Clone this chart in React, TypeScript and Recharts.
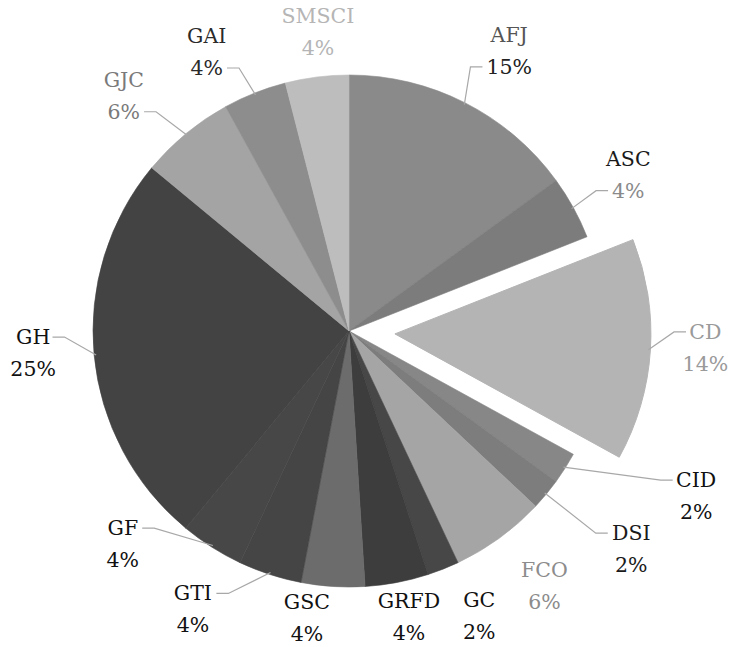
import React from 'react';
import { PieChart, Pie, Cell, Sector } from 'recharts';

// ---- data ----
const categories = ['AFJ', 'ASC', 'CD', 'CID', 'DSI', 'FCO', 'GC', 'GRFD', 'GSC', 'GTI', 'GF', 'GH', 'GJC', 'GAI', 'SMSCI'];
const shares = [15, 4, 14, 2, 2, 6, 2, 4, 4, 4, 4, 25, 6, 4, 4];
const percentLabels = ['15%', '4%', '14%', '2%', '2%', '6%', '2%', '4%', '4%', '4%', '4%', '25%', '6%', '4%', '4%'];
const explodedCategory = 'CD';

const data = categories.map((name, i) => ({ name, value: shares[i], pct: percentLabels[i] }));

// ---- styles ----
const sliceFill: Record<string, string> = {
  AFJ: '#8a8a8a', ASC: '#7c7c7c', CD: '#b4b4b4', CID: '#878787', DSI: '#7d7d7d',
  FCO: '#a5a5a5', GC: '#474747', GRFD: '#3d3d3d', GSC: '#6c6c6c', GTI: '#454545',
  GF: '#474747', GH: '#434343', GJC: '#a4a4a4', GAI: '#8d8d8d', SMSCI: '#bdbdbd',
};
const labelInk: Record<string, [string, string]> = {
  AFJ: ['#555555', '#222222'], ASC: ['#1a1a1a', '#8a8a8a'], CD: ['#9a9a9a', '#9a9a9a'],
  CID: ['#111111', '#111111'], DSI: ['#1a1a1a', '#1a1a1a'], FCO: ['#8c8c8c', '#8c8c8c'],
  GC: ['#111111', '#111111'], GRFD: ['#111111', '#111111'], GSC: ['#111111', '#111111'],
  GTI: ['#111111', '#111111'], GF: ['#111111', '#111111'], GH: ['#111111', '#111111'],
  GJC: ['#7a7a7a', '#7a7a7a'], GAI: ['#2a2a2a', '#2a2a2a'], SMSCI: ['#b5b5b5', '#b5b5b5'],
};
type Lead = { line: 'name' | 'pct'; side: 'left' | 'right' } | null;
// offset of the percent line's baseline centre from the slice edge point at mid angle
const labelLayout: Record<string, { dx: number; dy: number; lead: Lead }> = {
  AFJ: { dx: 44, dy: -29, lead: { line: 'pct', side: 'left' } },
  ASC: { dx: 55, dy: -10, lead: { line: 'pct', side: 'left' } },
  CD: { dx: 55, dy: 21, lead: { line: 'name', side: 'left' } },
  CID: { dx: 131, dy: 51, lead: { line: 'name', side: 'left' } },
  DSI: { dx: 85, dy: 78, lead: { line: 'name', side: 'left' } },
  FCO: { dx: 45, dy: 71, lead: null },
  GC: { dx: 36, dy: 70, lead: null },
  GRFD: { dx: 12, dy: 58, lead: null },
  GSC: { dx: -26, dy: 55, lead: null },
  GTI: { dx: -77, dy: 58, lead: { line: 'name', side: 'right' } },
  GF: { dx: -89, dy: 20, lead: { line: 'name', side: 'right' } },
  GH: { dx: -61, dy: 21, lead: { line: 'name', side: 'right' } },
  GJC: { dx: -62, dy: -15, lead: { line: 'pct', side: 'right' } },
  GAI: { dx: -48, dy: -18, lead: { line: 'pct', side: 'right' } },
  SMSCI: { dx: 1, dy: -22, lead: null },
};

const FONT = 'DejaVu Serif, Liberation Serif, serif';
const FS = 20.5;
const LINE_GAP = 32;
const EXPLODE = 46;
const RAD = Math.PI / 180;

function textWidth(s: string) {
  let w = 0;
  for (const c of s) {
    if (c === 'I' || c === 'J') w += 0.4;
    else if (c === 'M') w += 0.99;
    else if (c === '%') w += 0.95;
    else if (c >= '0' && c <= '9') w += 0.636;
    else w += 0.75;
  }
  return w * FS;
}

function renderLabel(props: any) {
  const { cx, cy, midAngle, outerRadius, startAngle, endAngle, index } = props;
  const name = categories[index];
  const exploded = name === explodedCategory;
  const off = exploded ? EXPLODE : 0;
  const ux = Math.cos(-midAngle * RAD);
  const uy = Math.sin(-midAngle * RAD);
  const ox = cx + off * ux;
  const oy = cy + off * uy;
  const ex = ox + outerRadius * ux;
  const ey = oy + outerRadius * uy;
  const lay = labelLayout[name];
  const px = ex + lay.dx;
  const pby = ey + lay.dy;
  const nby = pby - LINE_GAP;
  const [nameInk, pctInk] = labelInk[name];
  let leader = null;
  if (lay.lead) {
    const txt = lay.lead.line === 'name' ? name : percentLabels[index];
    const by = lay.lead.line === 'name' ? nby : pby;
    const hw = textWidth(txt) / 2;
    const endX = lay.lead.side === 'left' ? px - hw - 4 : px + hw + 4;
    const endY = by - 7;
    const elbowX = lay.lead.side === 'left' ? endX - 12 : endX + 12;
    const sx = ex - 2 * ux;
    const sy = ey - 2 * uy;
    leader = (
      <polyline
        points={`${sx},${sy} ${elbowX},${endY} ${endX},${endY}`}
        fill="none"
        stroke="#a8a8a8"
        strokeWidth={1.2}
      />
    );
  }
  return (
    <g key={`lbl-${name}`}>
      {exploded && (
        <Sector
          cx={ox}
          cy={oy}
          innerRadius={0}
          outerRadius={outerRadius}
          startAngle={startAngle}
          endAngle={endAngle}
          fill={sliceFill[name]}
          stroke={sliceFill[name]}
        />
      )}
      {leader}
      <text x={px} y={nby} textAnchor="middle" fontFamily={FONT} fontSize={FS} fill={nameInk}>
        {name}
      </text>
      <text x={px} y={pby} textAnchor="middle" fontFamily={FONT} fontSize={FS} fill={pctInk}>
        {percentLabels[index]}
      </text>
    </g>
  );
}

export default function App() {
  return (
    <div style={{ position: 'absolute', left: 0, top: 0, width: 729, height: 647, background: '#ffffff' }}>
      <PieChart width={729} height={647} margin={{ top: 0, right: 0, bottom: 0, left: 0 }}>
        <Pie
          data={data}
          dataKey="value"
          nameKey="name"
          cx={349}
          cy={331}
          innerRadius={0}
          outerRadius={256}
          startAngle={90}
          endAngle={-270}
          isAnimationActive={false}
          label={renderLabel}
          labelLine={false}
          stroke="none"
        >
          {data.map((d) => (
            <Cell
              key={d.name}
              fill={d.name === explodedCategory ? 'none' : sliceFill[d.name]}
              stroke={d.name === explodedCategory ? 'none' : sliceFill[d.name]}
              strokeWidth={0.6}
            />
          ))}
        </Pie>
      </PieChart>
    </div>
  );
}
